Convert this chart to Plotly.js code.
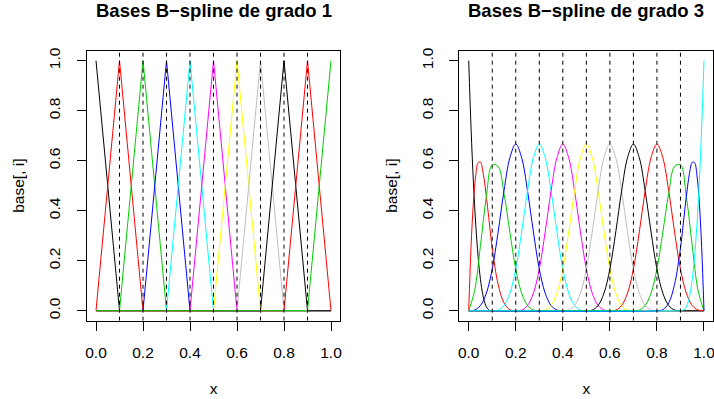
<!DOCTYPE html>
<html><head><meta charset="utf-8">
<script src="https://cdn.plot.ly/plotly-3.0.1.min.js"></script>
<style>html,body{margin:0;padding:0;background:#fff}#chart{width:714px;height:399px}</style>
</head><body><div id="chart"></div>
<script>
// ---------- data ----------
const panelTitles = ["Bases B\u2212spline de grado 1", "Bases B\u2212spline de grado 3"];
const xLabel = "x";
const yLabel = "base[, i]";
const knots = [0.1, 0.2, 0.3, 0.4, 0.5, 0.6, 0.7, 0.8, 0.9];
const tickVals = [0, 0.2, 0.4, 0.6, 0.8, 1.0];
const tickText = ["0.0", "0.2", "0.4", "0.6", "0.8", "1.0"];

// degree 1 (hat functions), sampled at the knots
const x1 = [0, 0.1, 0.2, 0.3, 0.4, 0.5, 0.6, 0.7, 0.8, 0.9, 1.0];
const d1_01 = [1,0,0,0,0,0,0,0,0,0,0];
const d1_02 = [0,1,0,0,0,0,0,0,0,0,0];
const d1_03 = [0,0,1,0,0,0,0,0,0,0,0];
const d1_04 = [0,0,0,1,0,0,0,0,0,0,0];
const d1_05 = [0,0,0,0,1,0,0,0,0,0,0];
const d1_06 = [0,0,0,0,0,1,0,0,0,0,0];
const d1_07 = [0,0,0,0,0,0,1,0,0,0,0];
const d1_08 = [0,0,0,0,0,0,0,1,0,0,0];
const d1_09 = [0,0,0,0,0,0,0,0,1,0,0];
const d1_10 = [0,0,0,0,0,0,0,0,0,1,0];
const d1_11 = [0,0,0,0,0,0,0,0,0,0,1];
const deg1Y = [d1_01,d1_02,d1_03,d1_04,d1_05,d1_06,d1_07,d1_08,d1_09,d1_10,d1_11];

// degree 3: boundary bases read on a fine grid
const d3_01x = [0,0.01,0.02,0.03,0.04,0.05,0.06,0.07,0.08,0.09,0.1,1.0];
const d3_01y = [1,0.729,0.512,0.343,0.216,0.125,0.064,0.027,0.008,0.001,0,0];
const d3_02x = [0,0.01,0.02,0.03,0.04,0.05,0.06,0.07,0.08,0.09,0.1,0.125,0.15,0.175,0.2,1.0];
const d3_02y = [0,0.2568,0.434,0.5423,0.592,0.5938,0.558,0.4953,0.416,0.3308,0.25,0.1055,0.0313,0.0039,0,0];
const d3_12x = [0,0.8,0.825,0.85,0.875,0.9,0.91,0.92,0.93,0.94,0.95,0.96,0.97,0.98,0.99,1.0];
const d3_12y = [0,0,0.0039,0.0313,0.1055,0.25,0.3308,0.416,0.4953,0.558,0.5938,0.592,0.5423,0.434,0.2568,0];
const d3_13x = [0,0.9,0.91,0.92,0.93,0.94,0.95,0.96,0.97,0.98,0.99,1.0];
const d3_13y = [0,0,0.001,0.008,0.027,0.064,0.125,0.216,0.343,0.512,0.729,1];

// degree 3: other bases on a 0.025 grid
const x3 = [0,0.025,0.05,0.075,0.1,0.125,0.15,0.175,0.2,0.225,0.25,0.275,0.3,0.325,0.35,0.375,0.4,
            0.425,0.45,0.475,0.5,0.525,0.55,0.575,0.6,0.625,0.65,0.675,0.7,0.725,0.75,0.775,0.8,
            0.825,0.85,0.875,0.9,0.925,0.95,0.975,1.0];
const d3_03 = [0,0.0794,0.2604,0.457,0.5833,0.5768,0.4688,0.3138,0.1667,0.0703,0.0208,0.0026,0,
               0,0,0,0, 0,0,0,0, 0,0,0,0, 0,0,0,0, 0,0,0,0, 0,0,0,0, 0,0,0,0];
const d3_04 = [0,0.0026,0.0208,0.0703,0.1667,0.3151,0.4792,0.612,0.6667,0.612,0.4792,0.3151,0.1667,0.0703,0.0208,0.0026,0,
               0,0,0,0, 0,0,0,0, 0,0,0,0, 0,0,0,0, 0,0,0,0, 0,0,0,0];
const d3_05 = [0,0,0,0, 0,0.0026,0.0208,0.0703,0.1667,0.3151,0.4792,0.612,0.6667,0.612,0.4792,0.3151,0.1667,0.0703,0.0208,0.0026,0,
               0,0,0,0, 0,0,0,0, 0,0,0,0, 0,0,0,0, 0,0,0,0];
const d3_06 = [0,0,0,0, 0,0,0,0, 0,0.0026,0.0208,0.0703,0.1667,0.3151,0.4792,0.612,0.6667,0.612,0.4792,0.3151,0.1667,0.0703,0.0208,0.0026,0,
               0,0,0,0, 0,0,0,0, 0,0,0,0, 0,0,0,0];
const d3_07 = [0,0,0,0, 0,0,0,0, 0,0,0,0, 0,0.0026,0.0208,0.0703,0.1667,0.3151,0.4792,0.612,0.6667,0.612,0.4792,0.3151,0.1667,0.0703,0.0208,0.0026,0,
               0,0,0,0, 0,0,0,0, 0,0,0,0];
const d3_08 = [0,0,0,0, 0,0,0,0, 0,0,0,0, 0,0,0,0, 0,0.0026,0.0208,0.0703,0.1667,0.3151,0.4792,0.612,0.6667,0.612,0.4792,0.3151,0.1667,0.0703,0.0208,0.0026,0,
               0,0,0,0, 0,0,0,0];
const d3_09 = [0,0,0,0, 0,0,0,0, 0,0,0,0, 0,0,0,0, 0,0,0,0, 0,0.0026,0.0208,0.0703,0.1667,0.3151,0.4792,0.612,0.6667,0.612,0.4792,0.3151,0.1667,0.0703,0.0208,0.0026,0,
               0,0,0,0];
const d3_10 = [0,0,0,0, 0,0,0,0, 0,0,0,0, 0,0,0,0, 0,0,0,0, 0,0,0,0, 0,0.0026,0.0208,0.0703,0.1667,0.3151,0.4792,0.612,0.6667,0.612,0.4792,0.3151,0.1667,0.0703,0.0208,0.0026,0];
const d3_11 = [0,0,0,0, 0,0,0,0, 0,0,0,0, 0,0,0,0, 0,0,0,0, 0,0,0,0, 0,0,0,0,
               0,0.0026,0.0208,0.0703,0.1667,0.3138,0.4688,0.5768,0.5833,0.457,0.2604,0.0794,0];

// ---------- style ----------
const rPalette = ["#000000","#FF0000","#00CD00","#0000FF","#00FFFF","#FF00FF","#FFFF00","#BEBEBE"];
const FONT = "Liberation Sans, Arial, Helvetica, sans-serif";

const deg3Series = [
  {x: d3_01x, y: d3_01y}, {x: d3_02x, y: d3_02y},
  {x: x3, y: d3_03}, {x: x3, y: d3_04}, {x: x3, y: d3_05}, {x: x3, y: d3_06},
  {x: x3, y: d3_07}, {x: x3, y: d3_08}, {x: x3, y: d3_09}, {x: x3, y: d3_10}, {x: x3, y: d3_11},
  {x: d3_12x, y: d3_12y}, {x: d3_13x, y: d3_13y}
];

const traces = [];
deg1Y.forEach((y, i) => traces.push({
  type: "scatter", mode: "lines", x: x1, y: y, xaxis: "x", yaxis: "y",
  line: {color: rPalette[i % 8], width: 1}, hoverinfo: "skip"
}));
deg3Series.forEach((s, i) => traces.push({
  type: "scatter", mode: "lines", x: s.x, y: s.y, xaxis: "x2", yaxis: "y2",
  line: {color: rPalette[i % 8], width: 1, shape: "spline", smoothing: 1}, hoverinfo: "skip"
}));
// dashed vertical lines at the interior knots
[["x","y"],["x2","y2"]].forEach(([xa, ya]) => {
  knots.forEach(k => traces.push({
    type: "scatter", mode: "lines", x: [k, k], y: [-0.04, 1.04], xaxis: xa, yaxis: ya,
    line: {color: "#000000", width: 1, dash: "4px,4px"}, hoverinfo: "skip"
  }));
});

const W = 714, H = 399;
const boxTop = 50.7, boxBot = 320.7;
const yDom = [(H - boxBot) / H, (H - boxTop) / H];
const xDom1 = [86.6 / W, 340.4 / W];
const xDom2 = [459.3 / W, 713.4 / W];

function xAxis(dom, anchor) {
  return {
    domain: dom, anchor: anchor, range: [-0.04, 1.04],
    tickmode: "array", tickvals: tickVals, ticktext: tickText,
    ticks: "outside", ticklen: 9, tickwidth: 1, tickcolor: "#000",
    ticklabelstandoff: 9, ticklabeloverflow: "allow",
    showline: true, mirror: true, linecolor: "#000", linewidth: 1,
    showgrid: false, zeroline: false,
    tickfont: {family: FONT, size: 15.5, color: "#000"},
    title: {text: xLabel, font: {family: FONT, size: 15.5, color: "#000"}, standoff: 22}
  };
}
function yAxis(dom, anchor) {
  return {
    domain: dom, anchor: anchor, range: [-0.04, 1.04],
    tickmode: "array", tickvals: tickVals, ticktext: tickText, tickangle: -90,
    ticks: "outside", ticklen: 9, tickwidth: 1, tickcolor: "#000",
    ticklabelstandoff: 10, ticklabeloverflow: "allow",
    showline: true, mirror: true, linecolor: "#000", linewidth: 1,
    showgrid: false, zeroline: false,
    tickfont: {family: FONT, size: 15.5, color: "#000"},
    title: {text: yLabel, font: {family: FONT, size: 15.5, color: "#000"}, standoff: 17}
  };
}

const layout = {
  width: W, height: H, margin: {l: 0, r: 0, t: 0, b: 0},
  paper_bgcolor: "#fff", plot_bgcolor: "#fff", showlegend: false, hovermode: false,
  xaxis: xAxis(xDom1, "y"), yaxis: yAxis(yDom, "x"),
  xaxis2: xAxis(xDom2, "y2"), yaxis2: yAxis(yDom, "x2"),
  annotations: [
    {text: panelTitles[0], x: (xDom1[0] + xDom1[1]) / 2, y: (H - 10) / H, xref: "paper", yref: "paper",
     xanchor: "center", yanchor: "middle", showarrow: false,
     font: {family: FONT, size: 18.5, color: "#000", weight: "bold"}},
    {text: panelTitles[1], x: (xDom2[0] + xDom2[1]) / 2, y: (H - 10) / H, xref: "paper", yref: "paper",
     xanchor: "center", yanchor: "middle", showarrow: false,
     font: {family: FONT, size: 18.5, color: "#000", weight: "bold"}}
  ]
};

Plotly.newPlot("chart", traces, layout, {staticPlot: true, displayModeBar: false});
</script>
</body></html>
